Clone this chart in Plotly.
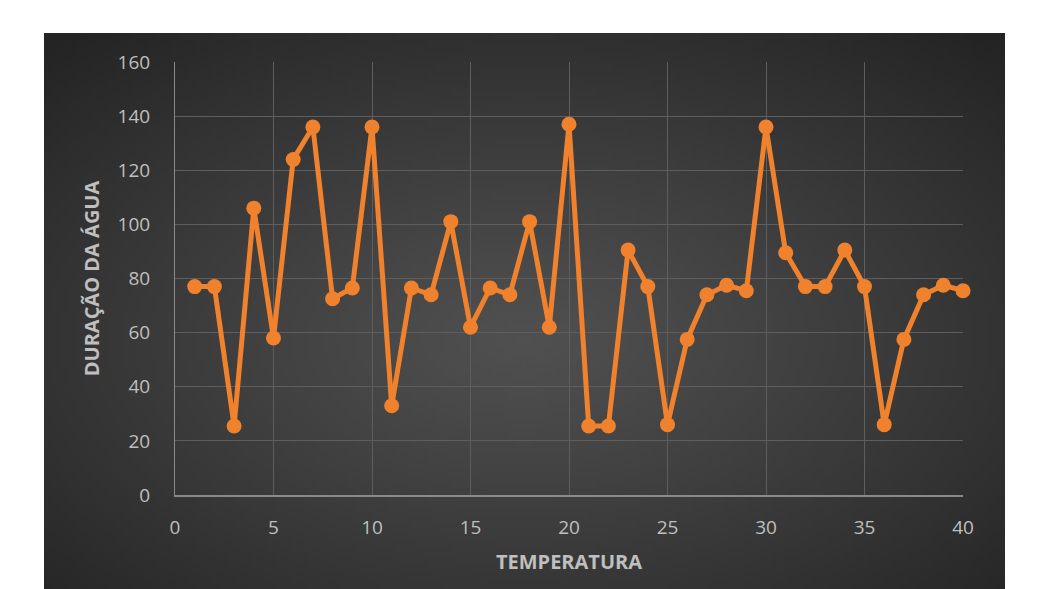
import plotly.graph_objects as go
import zlib, struct, base64, math

temperatura = list(range(1, 41))
duracao = [77, 77, 25.5, 106, 58, 124, 136, 72.5, 76.5, 136,
           33, 76.5, 74, 101, 62, 76.5, 74, 101, 62, 137,
           25.5, 25.5, 90.5, 77, 26, 57.5, 74, 77.5, 75.5, 136,
           89.5, 77, 77, 90.5, 77, 26, 57.5, 74, 77.5, 75.5]
x_ticks = [0, 5, 10, 15, 20, 25, 30, 35, 40]
y_ticks = [0, 20, 40, 60, 80, 100, 120, 140, 160]

# radial gradient background as PNG data URI
W, H = 192, 112
rows = []
for j in range(H):
    row = bytearray([0])
    for i in range(W):
        dx = (i + 0.5) / W - 0.5
        dy = (j + 0.5) / H - 0.55
        d = math.sqrt(dx ** 2 + dy ** 2) / 0.72
        d = min(d, 1.0)
        v = int(round(80 - (80 - 36) * d ** 1.1))
        row += bytes([v, v, v])
    rows.append(bytes(row))
raw = b"".join(rows)
def chunk(t, data):
    c = struct.pack(">I", len(data)) + t + data
    return c + struct.pack(">I", zlib.crc32(t + data) & 0xffffffff)
png = b"\x89PNG\r\n\x1a\n" + chunk(b"IHDR", struct.pack(">IIBBBBB", W, H, 8, 2, 0, 0, 0)) \
      + chunk(b"IDAT", zlib.compress(raw, 9)) + chunk(b"IEND", b"")
uri = "data:image/png;base64," + base64.b64encode(png).decode()

L, R, T, B = 175, 74, 62, 94
pw, ph = 1037 - L - R, 589 - T - B
x0 = (44 - L) / pw
x1 = (1005 - L) / pw
y1 = (589 - 33 - B) / ph
y0 = -B / ph

fig = go.Figure()
fig.add_trace(go.Scatter(
    x=temperatura, y=duracao, mode="lines+markers",
    line=dict(color="#F0822E", width=5),
    marker=dict(color="#F0822E", size=15),
    cliponaxis=False,
    hoverinfo="x+y", showlegend=False))

fig.add_layout_image(dict(source=uri, xref="paper", yref="paper",
                          x=x0, y=y1, sizex=x1 - x0, sizey=y1 - y0,
                          sizing="stretch", layer="below", xanchor="left", yanchor="top"))

font = "Open Sans, Noto Sans, sans-serif"
fig.update_layout(
    width=1037, height=589,
    margin=dict(l=L, r=R, t=T, b=B),
    paper_bgcolor="white", plot_bgcolor="rgba(0,0,0,0)",
    font=dict(family=font, color="#BFBFBF", size=19),
    xaxis=dict(range=[0, 40], tickvals=x_ticks, showgrid=True, gridcolor="#5E5E5E", gridwidth=1,
               zeroline=False, showline=True, linecolor="#8A8A8A", linewidth=2,
               ticks="", ticklen=0, tickfont=dict(size=19, color="#BFBFBF"), ticklabelstandoff=14,
               title=dict(text="<b>TEMPERATURA</b>", font=dict(size=20, color="#BFBFBF"), standoff=16)),
    yaxis=dict(range=[0, 160], tickvals=y_ticks, showgrid=True, gridcolor="#5E5E5E", gridwidth=1,
               zeroline=False, showline=True, linecolor="#8A8A8A", linewidth=1,
               ticks="", tickfont=dict(size=19, color="#BFBFBF"), ticklabelstandoff=20,
               title=dict(text="<b>DURAÇÃO DA ÁGUA</b>", font=dict(size=20, color="#BFBFBF"), standoff=12)),
)
fig.write_html("out.html")
